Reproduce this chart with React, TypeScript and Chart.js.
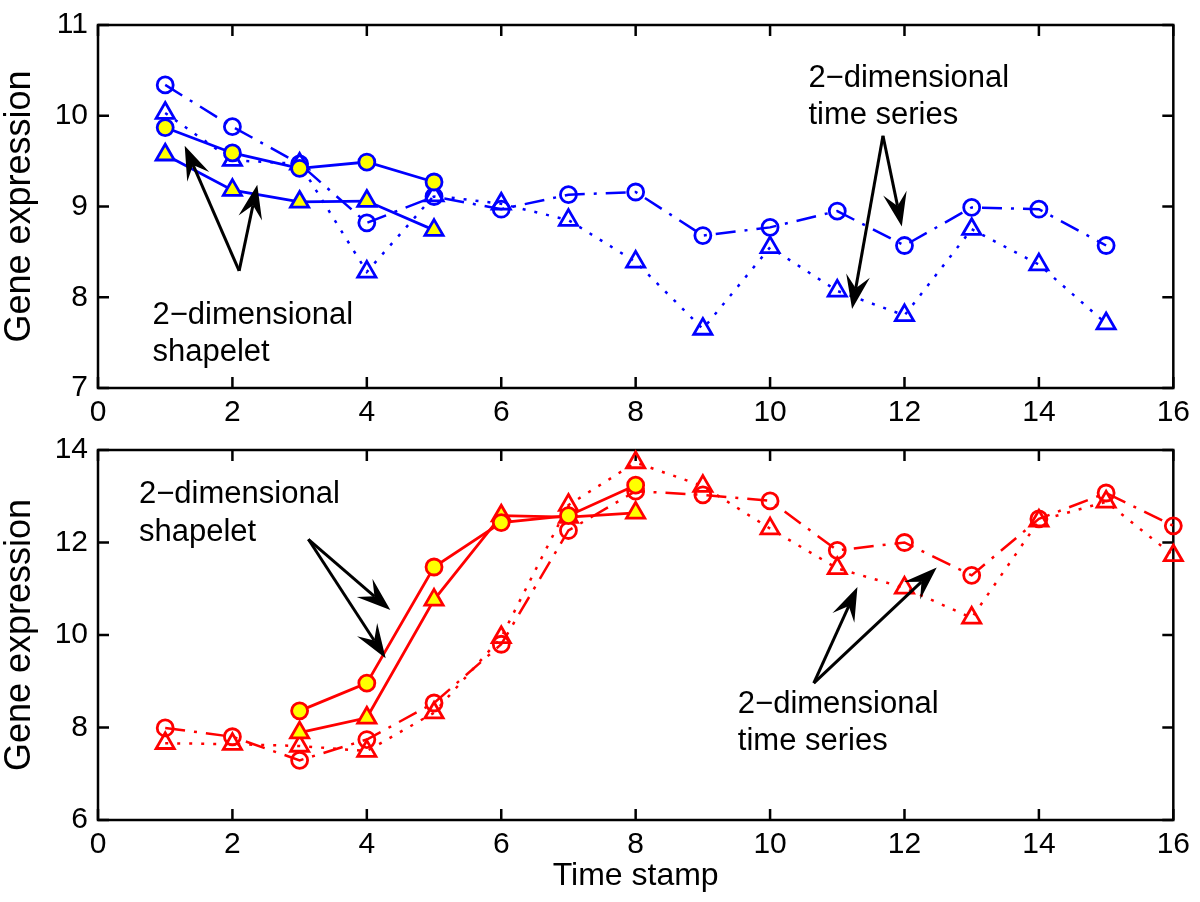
import React, { useEffect, useRef } from 'react';
import { Chart, registerables } from 'chart.js';

Chart.register(...registerables);

// ---------- data ----------
const xTickValues = [0, 2, 4, 6, 8, 10, 12, 14, 16];
const topYTickValues = [7, 8, 9, 10, 11];
const bottomYTickValues = [6, 8, 10, 12, 14];

const topTime = [1, 2, 3, 4, 5, 6, 7, 8, 9, 10, 11, 12, 13, 14, 15];
const topSeriesCircle = [10.34, 9.88, 9.47, 8.82, 9.11, 8.97, 9.13, 9.16, 8.68, 8.77, 8.95, 8.57, 8.99, 8.97, 8.57];
const topSeriesTriangle = [10.03, 9.51, 9.47, 8.28, 9.12, 9.03, 8.85, 8.39, 7.65, 8.55, 8.07, 7.8, 8.75, 8.36, 7.71];
const topShapeletTime = [1, 2, 3, 4, 5];
const topShapeletCircle = [9.87, 9.59, 9.42, 9.49, 9.27];
const topShapeletTriangle = [9.57, 9.18, 9.05, 9.06, 8.74];

const bottomTime = [1, 2, 3, 4, 5, 6, 7, 8, 9, 10, 11, 12, 13, 14, 15, 16];
const bottomSeriesCircle = [7.99, 7.8, 7.29, 7.74, 8.53, 9.8, 12.26, 13.11, 13.03, 12.9, 11.83, 12.0, 11.29, 12.51, 13.07, 12.36];
const bottomSeriesTriangle = [7.66, 7.64, 7.6, 7.49, 8.32, 9.95, 12.81, 13.73, 13.22, 12.3, 11.44, 11.02, 10.37, 12.47, 12.88, 11.72];
const bottomShapeletTime = [3, 4, 5, 6, 7, 8];
const bottomShapeletCircle = [8.36, 8.96, 11.47, 12.43, 12.58, 13.24];
const bottomShapeletTriangle = [7.89, 8.21, 10.76, 12.58, 12.55, 12.64];

// annotations (data units): [tailX, tailY, tipX, tipY]
const topArrows = [
  [2.1, 8.29, 1.29, 9.67],
  [2.1, 8.29, 2.37, 9.24],
  [11.68, 9.78, 11.96, 8.78],
  [11.68, 9.78, 11.22, 7.87],
];
const topNotes = [
  { x: 0.81, y: 7.71, text: '2\u2212dimensional' },
  { x: 0.81, y: 7.3, text: 'shapelet' },
  { x: 10.57, y: 10.32, text: '2\u2212dimensional' },
  { x: 10.57, y: 9.91, text: 'time series' },
];
const bottomArrows = [
  [3.13, 12.07, 4.35, 10.54],
  [3.13, 12.07, 4.28, 9.5],
  [10.65, 8.96, 11.3, 11.04],
  [10.65, 8.96, 12.48, 11.46],
];
const bottomNotes = [
  { x: 0.61, y: 12.86, text: '2\u2212dimensional' },
  { x: 0.61, y: 12.04, text: 'shapelet' },
  { x: 9.52, y: 8.32, text: '2\u2212dimensional' },
  { x: 9.52, y: 7.51, text: 'time series' },
];

const FONT = "'Liberation Sans', Arial, Helvetica, sans-serif";
const BLUE = '#0000ff';
const RED = '#ff0000';
const YELLOW = '#ffff00';
const NONE = 'rgba(0,0,0,0)';

function makeDataset(xs: number[], ys: number[], color: string, style: string, dash: number[], fill: string, order: number) {
  return {
    data: xs.map((x, i) => ({ x, y: ys[i] })),
    borderColor: color,
    backgroundColor: fill,
    borderWidth: dash.length ? 2.5 : 2.8,
    borderDash: dash,
    pointStyle: style,
    pointRadius: style === 'triangle' ? 10.5 : 8,
    pointBorderColor: color,
    pointBackgroundColor: fill,
    pointBorderWidth: 2.8,
    pointHoverRadius: style === 'triangle' ? 10.5 : 8,
    tension: 0,
    clip: false,
    order,
  };
}

function drawArrow(ctx: CanvasRenderingContext2D, x0: number, y0: number, x1: number, y1: number) {
  const dx = x1 - x0, dy = y1 - y0;
  const len = Math.hypot(dx, dy);
  const ux = dx / len, uy = dy / len;
  const nx = -uy, ny = ux;
  const L = 34, W = 12, notch = 13;
  ctx.save();
  ctx.strokeStyle = '#000';
  ctx.fillStyle = '#000';
  ctx.lineWidth = 3;
  ctx.beginPath();
  ctx.moveTo(x0, y0);
  ctx.lineTo(x1 - (L - notch) * ux, y1 - (L - notch) * uy);
  ctx.stroke();
  ctx.beginPath();
  ctx.moveTo(x1, y1);
  ctx.lineTo(x1 - L * ux + W * nx, y1 - L * uy + W * ny);
  ctx.lineTo(x1 - (L - notch) * ux, y1 - (L - notch) * uy);
  ctx.lineTo(x1 - L * ux - W * nx, y1 - L * uy - W * ny);
  ctx.closePath();
  ctx.fill();
  ctx.restore();
}

const framePlugin = {
  id: 'matlabFrame',
  beforeDatasetsDraw(chart: any) {
    const { ctx, chartArea: a, scales } = chart;
    const o = chart.options.plugins.matlabFrame;
    ctx.save();
    ctx.strokeStyle = '#000';
    ctx.lineWidth = 2.5;
    ctx.strokeRect(a.left, a.top, a.right - a.left, a.bottom - a.top);
    ctx.lineWidth = 2.5;
    const tl = 11;
    ctx.beginPath();
    for (const v of o.xTicks) {
      const px = scales.x.getPixelForValue(v);
      ctx.moveTo(px, a.bottom); ctx.lineTo(px, a.bottom - tl);
      ctx.moveTo(px, a.top); ctx.lineTo(px, a.top + tl);
    }
    for (const v of o.yTicks) {
      const py = scales.y.getPixelForValue(v);
      ctx.moveTo(a.left, py); ctx.lineTo(a.left + tl, py);
      ctx.moveTo(a.right, py); ctx.lineTo(a.right - tl, py);
    }
    ctx.stroke();
    // y title
    ctx.fillStyle = '#000';
    ctx.font = `36px ${FONT}`;
    ctx.textAlign = 'center';
    ctx.textBaseline = 'middle';
    ctx.save();
    ctx.translate(20, (a.top + a.bottom) / 2);
    ctx.rotate(-Math.PI / 2);
    ctx.fillText(o.yTitle, 0, 0);
    ctx.restore();
    if (o.xTitle) {
      ctx.font = `32px ${FONT}`;
      ctx.fillText(o.xTitle, (a.left + a.right) / 2, o.xTitleY);
    }
    ctx.restore();
  },
  afterDatasetsDraw(chart: any) {
    const { ctx, scales } = chart;
    const o = chart.options.plugins.matlabFrame;
    for (const [tx, ty, hx, hy] of o.arrows) {
      drawArrow(ctx, scales.x.getPixelForValue(tx), scales.y.getPixelForValue(ty), scales.x.getPixelForValue(hx), scales.y.getPixelForValue(hy));
    }
    ctx.save();
    ctx.fillStyle = '#000';
    ctx.font = `31px ${FONT}`;
    ctx.textAlign = 'left';
    ctx.textBaseline = 'alphabetic';
    for (const n of o.notes) {
      ctx.fillText(n.text, scales.x.getPixelForValue(n.x), scales.y.getPixelForValue(n.y));
    }
    ctx.restore();
  },
};

function makeConfig(p: any) {
  return {
    type: 'line',
    data: { datasets: p.datasets },
    plugins: [framePlugin],
    options: {
      animation: false,
      responsive: false,
      devicePixelRatio: 1,
      events: [],
      layout: { padding: { top: p.padTop, right: 20, left: 0, bottom: 0 } },
      plugins: {
        legend: { display: false },
        tooltip: { enabled: false },
        matlabFrame: {
          xTicks: xTickValues,
          yTicks: p.yTicks,
          yTitle: 'Gene expression',
          xTitle: p.xTitle,
          xTitleY: p.xTitleY,
          arrows: p.arrows,
          notes: p.notes,
        },
      },
      scales: {
        x: {
          type: 'linear',
          min: 0,
          max: 16,
          afterBuildTicks: (s: any) => { s.ticks = xTickValues.map((v) => ({ value: v })); },
          afterFit: (s: any) => { s.height = p.xHeight; },
          grid: { display: false, drawTicks: false },
          border: { display: false },
          ticks: { color: '#000', font: { family: FONT, size: 30, lineHeight: 1 }, padding: 10, maxRotation: 0, autoSkip: false, callback: (v: any) => String(v) },
        },
        y: {
          type: 'linear',
          min: p.yMin,
          max: p.yMax,
          afterBuildTicks: (s: any) => { s.ticks = p.yTicks.map((v: number) => ({ value: v })); },
          afterFit: (s: any) => { s.width = 98; },
          grid: { display: false, drawTicks: false },
          border: { display: false },
          ticks: { color: '#000', font: { family: FONT, size: 30, lineHeight: 1 }, padding: 10, autoSkip: false, callback: (v: any) => String(v) },
        },
      },
    },
  };
}

function Panel(props: { cfg: any; top: number; height: number }) {
  const ref = useRef<HTMLCanvasElement>(null);
  useEffect(() => {
    const chart = new Chart(ref.current as HTMLCanvasElement, props.cfg);
    return () => chart.destroy();
  }, []);
  return (
    <canvas
      ref={ref}
      width={1200}
      height={props.height}
      style={{ position: 'absolute', left: 0, top: props.top, width: 1200, height: props.height }}
    />
  );
}

const topCfg = makeConfig({
  padTop: 17,
  xHeight: 425 - 388,
  yMin: 7,
  yMax: 11,
  yTicks: topYTickValues,
  arrows: topArrows,
  notes: topNotes,
  datasets: [
    makeDataset(topShapeletTime, topShapeletCircle, BLUE, 'circle', [], YELLOW, 0),
    makeDataset(topShapeletTime, topShapeletTriangle, BLUE, 'triangle', [], YELLOW, 1),
    makeDataset(topTime, topSeriesCircle, BLUE, 'circle', [20, 9, 3, 9], NONE, 2),
    makeDataset(topTime, topSeriesTriangle, BLUE, 'triangle', [3, 9], NONE, 3),
  ],
});

const bottomCfg = makeConfig({
  padTop: 22,
  xHeight: 477 - 395,
  yMin: 6,
  yMax: 14,
  yTicks: bottomYTickValues,
  xTitle: 'Time stamp',
  xTitleY: 876 - 425,
  arrows: bottomArrows,
  notes: bottomNotes,
  datasets: [
    makeDataset(bottomShapeletTime, bottomShapeletCircle, RED, 'circle', [], YELLOW, 0),
    makeDataset(bottomShapeletTime, bottomShapeletTriangle, RED, 'triangle', [], YELLOW, 1),
    makeDataset(bottomTime, bottomSeriesCircle, RED, 'circle', [20, 9, 3, 9], NONE, 2),
    makeDataset(bottomTime, bottomSeriesTriangle, RED, 'triangle', [3, 9], NONE, 3),
  ],
});

export default function App() {
  useEffect(() => {
    document.body.style.margin = '0';
    document.body.style.background = '#fff';
  }, []);
  return (
    <div style={{ position: 'relative', width: 1200, height: 902, background: '#fff', overflow: 'hidden' }}>
      <Panel cfg={topCfg} top={0} height={425} />
      <Panel cfg={bottomCfg} top={425} height={477} />
    </div>
  );
}
